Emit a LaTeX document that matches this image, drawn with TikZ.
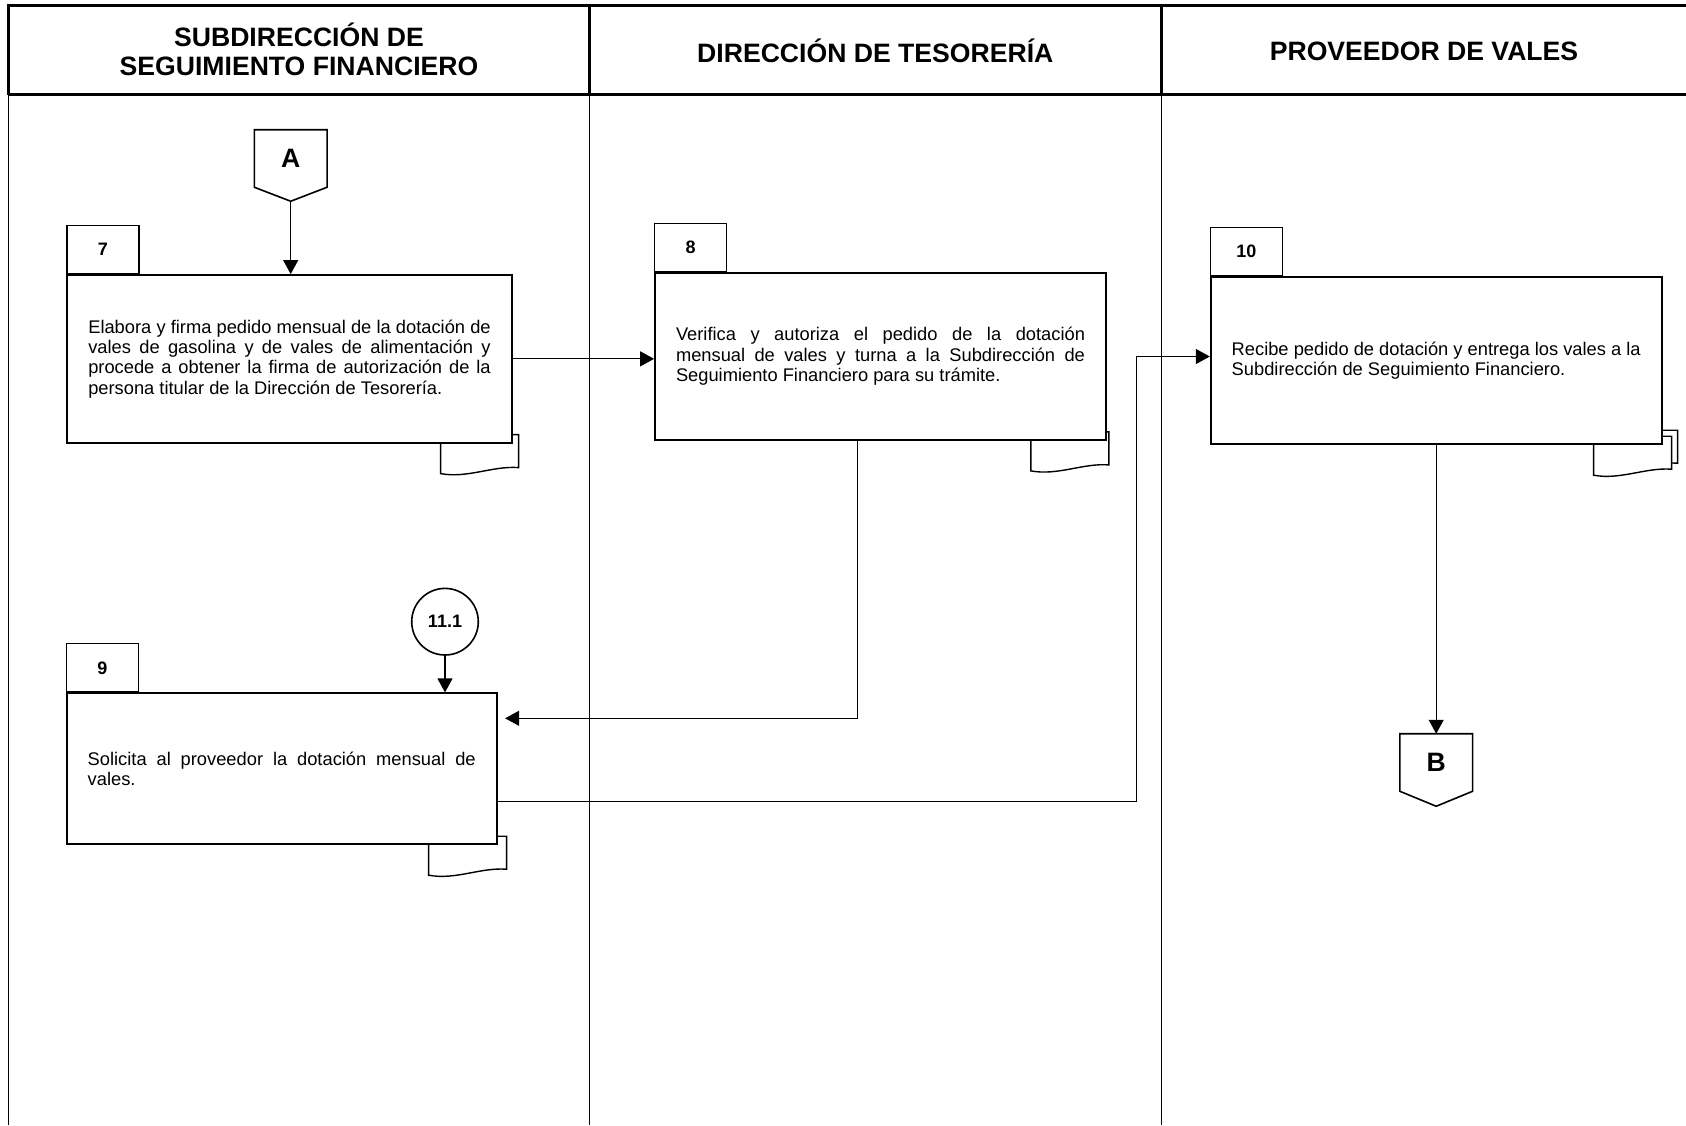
\documentclass[tikz,border=0pt]{standalone}
\usepackage{fontspec}
\setmainfont{Liberation Sans}
\usetikzlibrary{calc}
\usetikzlibrary{arrows.meta}

\pgfdeclarelayer{back}
\pgfsetlayers{back,main}

\begin{document}
\begin{tikzpicture}[x=0.5pt, y=-0.5pt,
	lane title/.style={font=\fontsize{13.3}{14.5}\selectfont\bfseries, align=center},
	step box/.style={draw, line width=0.9pt, fill=white, inner xsep=10.5pt, inner ysep=0pt, align=justify, font=\fontsize{9.15}{10.2}\selectfont},
	step tab/.style={draw, line width=0.6pt, anchor=south west, minimum width=36pt, minimum height=24pt, inner sep=0pt, font=\fontsize{9}{10}\selectfont\bfseries},
	page ref/.style={minimum width=36pt, minimum height=28.35pt, inner sep=0pt, font=\fontsize{13.3}{14}\selectfont\bfseries},
	jump/.style={draw, circle, line width=0.8pt, minimum size=33.3pt, inner sep=0pt, font=\fontsize{9}{10}\selectfont\bfseries},
	flow/.style={line width=0.6pt, -{Triangle[length=7pt,width=7.5pt]}},
	pics/doc/.style={code={\draw[line width=0.7pt, fill=white] (-72,-9) -- (6,-9) -- (6,24) .. controls (-20,22) and (-45,35) .. (-72,30) -- cycle;}}]

	\useasboundingbox (0,0) rectangle (1686,1125);

	% lanes
	\draw[line width=1.3pt] (8.6,94.6) -- (8.6,5.4) -- (1686,5.4);
	\draw[line width=1.3pt] (8.6,94.6) -- (1686,94.6);
	\draw[line width=1.3pt] (589.3,5.4) -- (589.3,94.6);
	\draw[line width=1.3pt] (1161.3,5.4) -- (1161.3,94.6);
	\draw[line width=0.8pt] (8.6,94.6) -- (8.6,1125);
	\draw[line width=0.8pt] (589.3,94.6) -- (589.3,1125);
	\draw[line width=0.8pt] (1161.3,94.6) -- (1161.3,1125);

	\node[lane title] (t1) at (299,49) {SUBDIRECCIÓN DE\\SEGUIMIENTO FINANCIERO};
	\node[lane title] (t2) at (875.3,50.5) {DIRECCIÓN DE TESORERÍA};
	\node[lane title] (t3) at (1424,51) {PROVEEDOR DE VALES};

	% steps
	\node[step box, text width=201.2pt, minimum height=83.85pt] (b7) at (289.5,358.85)
		{Elabora y firma pedido mensual de la dotación de\linebreak vales de gasolina y de vales de alimentación y\linebreak procede a obtener la firma de autorización de la\linebreak persona titular de la Dirección de Tesorería.};
	\node[step tab] (n7) at (b7.north west) {7};

	\node[step box, text width=204.5pt, minimum height=83.65pt] (b8) at (880.5,356.35)
		{Verifica y autoriza el pedido de la dotación\linebreak mensual de vales y turna a la Subdirección de\linebreak Seguimiento Financiero para su trámite.};
	\node[step tab] (n8) at (b8.north west) {8};

	\node[step box, text width=194pt, minimum height=75.5pt] (b9) at (281.7,768.8)
		{Solicita al proveedor la dotación mensual de\linebreak vales.};
	\node[step tab] (n9) at (b9.north west) {9};

	\node[step box, text width=204.5pt, minimum height=83.8pt] (b10) at (1436.2,360.5)
		{Recibe pedido de dotación y entrega los vales a la\linebreak Subdirección de Seguimiento Financiero.};
	\node[step tab] (n10) at (b10.north west) {10};

	\begin{pgfonlayer}{back}
		\pic at (b7.south east) {doc};
		\pic at ($(b8.south east)+(-4,0)$) {doc};
		\pic at ($(b9.south east)+(3,0)$) {doc};
		\pic at ($(b10.south east)+(9,-6)$) {doc};
		\pic at ($(b10.south east)+(3,0)$) {doc};
	\end{pgfonlayer}

	% connectors
	\node[page ref] (A) at (290.7,158.5) {A};
	\draw[line width=0.8pt] (A.north west) -- (A.north east) -- (A.south east) -- ($(A.south)+(0,14)$) coordinate (A tip) -- (A.south west) -- cycle;

	\node[page ref] (B) at (1436.2,762.5) {B};
	\draw[line width=0.8pt] (B.north west) -- (B.north east) -- (B.south east) -- ($(B.south)+(0,15)$) -- (B.south west) -- cycle;

	\node[jump] (c11) at (445,621.7) {11.1};

	% flow
	\draw[flow] (A tip) -- (A tip |- b7.north);
	\draw[flow] (b7.east) -- (b7.east -| b8.west);
	\draw[flow] ($(b8.south)+(-23,0)$) |- ($(b9.east)+(7.5,-50.5)$);
	\draw[flow] (c11.south) -- (c11.south |- b9.north);
	\draw[flow] ($(b9.east)+(0,33)$) -| ($(b10.west)+(-73,-4)$) -- ($(b10.west)+(0,-4)$);
	\draw[flow] (b10.south) -- (B.north);
\end{tikzpicture}
\end{document}
